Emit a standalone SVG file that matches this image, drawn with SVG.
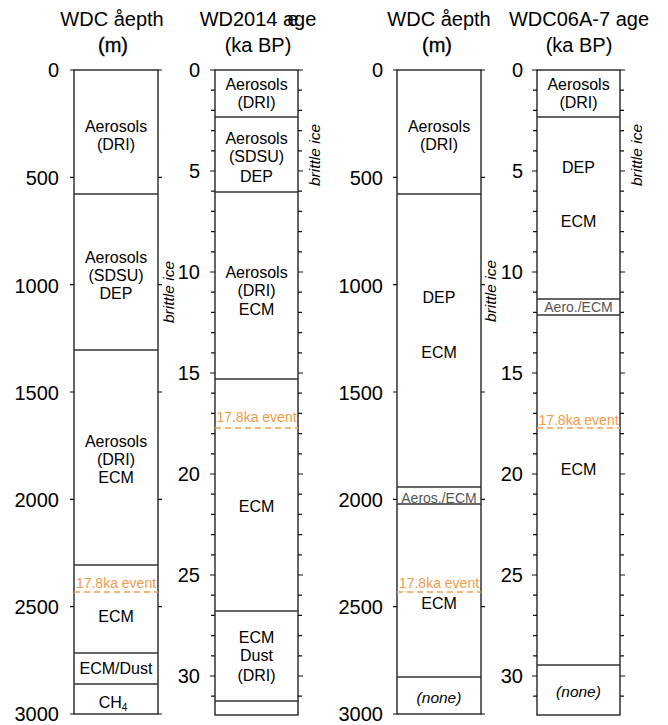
<svg xmlns="http://www.w3.org/2000/svg" width="668" height="725" viewBox="0 0 668 725">
<style>
text{font-family:"Liberation Sans",Arial,sans-serif;fill:#000}
.hd{font-size:20px;text-anchor:middle}
.bd{stroke:#000;stroke-width:0.35}
.ax{font-size:20px;text-anchor:end}
.lb{font-size:16px;text-anchor:middle}
.sm{font-size:14px;text-anchor:middle;fill:#555}
.ev{font-size:14px;text-anchor:middle;fill:#f39a4a}
.it{font-size:15.5px;font-style:italic}
.box{fill:none;stroke:#111;stroke-width:1.3}
.div{stroke:#333;stroke-width:1.5}
.dash{stroke:#f5a04e;stroke-width:1.5;stroke-dasharray:6 4}
.tk{stroke:#111;stroke-width:1.2}
</style>
<defs>
<g id="kaTicks">
<path class="tk" d="M-5,0H0M-4,20.2H0M-4,40.4H0M-4,60.6H0M-4,80.8H0M-5,101H0M-4,121.2H0M-4,141.4H0M-4,161.6H0M-4,181.8H0M-5,202H0M-4,222.2H0M-4,242.4H0M-4,262.6H0M-4,282.8H0M-5,303H0M-4,323.2H0M-4,343.4H0M-4,363.6H0M-4,383.8H0M-5,404H0M-4,424.2H0M-4,444.4H0M-4,464.6H0M-4,484.8H0M-5,505H0M-4,525.2H0M-4,545.4H0M-4,565.6H0M-4,585.8H0M-5,606H0M-4,626.2H0"/>
</g>
<g id="mTicks">
<path class="tk" d="M-4,0H0M-4,107.3H0M-4,214.7H0M-4,322H0M-4,429.3H0M-4,536.7H0M-4,644H0"/>
</g>
</defs>

<!-- Column 1: WDC depth -->
<g id="col1">
<text class="hd" x="112" y="26">WDC åepth</text>
<text class="hd bd" x="113" y="52">(m)</text>
<text class="ax" x="59" y="77">0</text>
<text class="ax" x="59" y="185">500</text>
<text class="ax" x="59" y="293">1000</text>
<text class="ax" x="59" y="400">1500</text>
<text class="ax" x="59" y="507">2000</text>
<text class="ax" x="59" y="614">2500</text>
<text class="ax" x="59" y="721">3000</text>
<use href="#mTicks" x="74" y="70"/>
<use href="#mTicks" transform="translate(158,70) scale(-1,1)"/>
<rect class="box" x="74" y="70" width="84" height="644"/>
<line class="div" x1="74" y1="194" x2="158" y2="194"/>
<line class="div" x1="74" y1="350" x2="158" y2="350"/>
<line class="div" x1="74" y1="565" x2="158" y2="565"/>
<line class="dash" x1="74" y1="592" x2="158" y2="592"/>
<line class="div" x1="74" y1="653" x2="158" y2="653"/>
<line class="div" x1="74" y1="684" x2="158" y2="684"/>
<text class="lb" x="116" y="131.5">Aerosols</text>
<text class="lb" x="116" y="149.5">(DRI)</text>
<text class="lb" x="116" y="262.5">Aerosols</text>
<text class="lb" x="116" y="280.5">(SDSU)</text>
<text class="lb" x="116" y="298.5">DEP</text>
<text class="lb" x="116" y="446.5">Aerosols</text>
<text class="lb" x="116" y="464.5">(DRI)</text>
<text class="lb" x="116" y="482.5">ECM</text>
<text class="ev" x="116" y="588">17.8ka event</text>
<text class="lb" x="116" y="621.5">ECM</text>
<text class="lb" x="116" y="673.5">ECM/Dust</text>
<text class="lb" x="113" y="707.5">CH<tspan font-size="10" dy="3">4</tspan></text>
<text class="it" transform="translate(174,292) rotate(-90)" text-anchor="middle">brittle ice</text>
</g>

<!-- Column 2: WD2014 age -->
<g id="col2">
<text class="hd" x="258" y="26">WD2014 age</text>
<text class="hd" x="293" y="26" text-anchor="start">e</text>
<text class="hd" x="258" y="52">(ka BP)</text>
<text class="ax" x="200" y="77">0</text>
<text class="ax" x="200" y="178">5</text>
<text class="ax" x="200" y="279">10</text>
<text class="ax" x="200" y="380">15</text>
<text class="ax" x="200" y="481">20</text>
<text class="ax" x="200" y="582">25</text>
<text class="ax" x="200" y="683">30</text>
<use href="#kaTicks" x="215" y="70"/>
<use href="#kaTicks" transform="translate(298,70) scale(-1,1)"/>
<rect class="box" x="215" y="70" width="83" height="645"/>
<line class="div" x1="215" y1="117" x2="298" y2="117"/>
<line class="div" x1="215" y1="192" x2="298" y2="192"/>
<line class="div" x1="215" y1="379" x2="298" y2="379"/>
<line class="dash" x1="215" y1="428" x2="298" y2="428"/>
<line class="div" x1="215" y1="611" x2="298" y2="611"/>
<line class="div" x1="215" y1="701" x2="298" y2="701"/>
<text class="lb" x="256.5" y="89.5">Aerosols</text>
<text class="lb" x="256.5" y="108">(DRI)</text>
<text class="lb" x="256.5" y="143.5">Aerosols</text>
<text class="lb" x="256.5" y="162">(SDSU)</text>
<text class="lb" x="256.5" y="181.5">DEP</text>
<text class="lb" x="256.5" y="277.5">Aerosols</text>
<text class="lb" x="256.5" y="296">(DRI)</text>
<text class="lb" x="256.5" y="314.5">ECM</text>
<text class="ev" x="256.5" y="422">17.8ka event</text>
<text class="lb" x="256.5" y="511.5">ECM</text>
<text class="lb" x="256.5" y="642.5">ECM</text>
<text class="lb" x="256.5" y="661">Dust</text>
<text class="lb" x="256.5" y="680.5">(DRI)</text>
<text class="it" transform="translate(320,155) rotate(-90)" text-anchor="middle">brittle ice</text>
</g>

<!-- Column 3: WDC depth -->
<g id="col3">
<text class="hd" x="439" y="26">WDC åepth</text>
<text class="hd bd" x="437" y="52">(m)</text>
<text class="ax" x="383" y="77">0</text>
<text class="ax" x="383" y="185">500</text>
<text class="ax" x="383" y="293">1000</text>
<text class="ax" x="383" y="400">1500</text>
<text class="ax" x="383" y="507">2000</text>
<text class="ax" x="383" y="614">2500</text>
<text class="ax" x="383" y="721">3000</text>
<use href="#mTicks" x="397" y="70"/>
<use href="#mTicks" transform="translate(481,70) scale(-1,1)"/>
<rect class="box" x="397" y="70" width="84" height="644"/>
<line class="div" x1="397" y1="194" x2="481" y2="194"/>
<line class="div" x1="397" y1="487" x2="481" y2="487"/>
<line class="div" x1="397" y1="504" x2="481" y2="504"/>
<line class="dash" x1="397" y1="592" x2="481" y2="592"/>
<line class="div" x1="397" y1="677" x2="481" y2="677"/>
<text class="lb" x="439" y="131.5">Aerosols</text>
<text class="lb" x="439" y="149.5">(DRI)</text>
<text class="lb" x="439" y="302.5">DEP</text>
<text class="lb" x="439" y="357.5">ECM</text>
<text class="sm" x="439" y="503">Aeros./ECM</text>
<text class="ev" x="439" y="588">17.8ka event</text>
<text class="lb" x="439" y="608.5">ECM</text>
<text class="it" x="439" y="703" text-anchor="middle">(none)</text>
<text class="it" transform="translate(496,291) rotate(-90)" text-anchor="middle">brittle ice</text>
</g>

<!-- Column 4: WDC06A-7 age -->
<g id="col4">
<text class="hd" x="579" y="26">WDC06A-7 age</text>
<text class="hd" x="579" y="52">(ka BP)</text>
<text class="ax" x="523" y="77">0</text>
<text class="ax" x="523" y="178">5</text>
<text class="ax" x="523" y="279">10</text>
<text class="ax" x="523" y="380">15</text>
<text class="ax" x="523" y="481">20</text>
<text class="ax" x="523" y="582">25</text>
<text class="ax" x="523" y="683">30</text>
<use href="#kaTicks" x="537" y="70"/>
<use href="#kaTicks" transform="translate(620,70) scale(-1,1)"/>
<rect class="box" x="537" y="70" width="83" height="645"/>
<line class="div" x1="537" y1="117" x2="620" y2="117"/>
<line class="div" x1="537" y1="299" x2="620" y2="299"/>
<line class="div" x1="537" y1="315" x2="620" y2="315"/>
<line class="dash" x1="537" y1="428" x2="620" y2="428"/>
<line class="div" x1="537" y1="665" x2="620" y2="665"/>
<text class="lb" x="578.5" y="89.5">Aerosols</text>
<text class="lb" x="578.5" y="108">(DRI)</text>
<text class="lb" x="578.5" y="172.5">DEP</text>
<text class="lb" x="578.5" y="226.5">ECM</text>
<text class="sm" x="578.5" y="312">Aero./ECM</text>
<text class="ev" x="578.5" y="425">17.8ka event</text>
<text class="lb" x="578.5" y="474.5">ECM</text>
<text class="it" x="578.5" y="697" text-anchor="middle">(none)</text>
<text class="it" transform="translate(642,155) rotate(-90)" text-anchor="middle">brittle ice</text>
</g>
</svg>
